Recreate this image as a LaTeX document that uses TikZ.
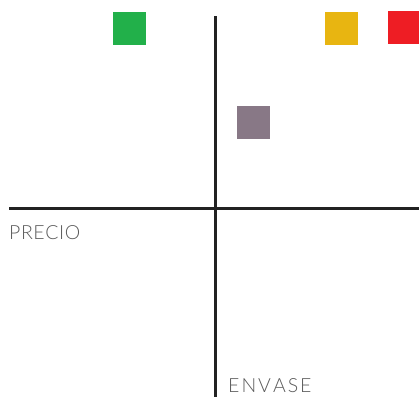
\documentclass[tikz,border=0pt]{standalone}
\usepackage{fontspec}
\setmainfont{Lato}[UprightFont=* Light]
\usepackage{tikz}
\usetikzlibrary{positioning}
\definecolor{mapgreen}{HTML}{22B04A}
\definecolor{mapyellow}{HTML}{E8B511}
\definecolor{mapred}{HTML}{EE1D24}
\definecolor{mapgray}{HTML}{887886}
\definecolor{axisink}{HTML}{222222}
\definecolor{labelink}{HTML}{5A5A5A}

\begin{document}
\begin{tikzpicture}[
    x=1pt, y=-1pt,
    brand/.style={draw=none,minimum size=33pt,inner sep=0pt,outer sep=0pt},
    axis/.style={line width=3pt,color=axisink},
    axlabel/.style={font=\fontsize{19.5}{19.5}\selectfont,text=labelink,inner sep=0pt,anchor=base west}
  ]
    \useasboundingbox (0,0) rectangle (419,397);

    % axes
    \coordinate (xl) at (9,208);
    \coordinate (xr) at (419,208);
    \coordinate (yt) at (215,16);
    \coordinate (yb) at (215,397);
    \draw[axis] (xl) -- (xr);
    \draw[axis] (yt) -- (yb);

    \node[axlabel] (precio) at (9,239) {P\kern0.6pt R\kern0.6pt E\kern0.6pt C\kern0.6pt I\kern0.6pt O};
    \node[axlabel] (envase) at (228,392) {E\kern2pt N\kern2pt V\kern2pt A\kern2pt S\kern2pt E};

    % brands
    \node[brand,fill=mapgreen] (green) at (129.5,28.5) {};
    \node[brand,fill=mapyellow] (yellow) at (341.5,28.5) {};
    \node[brand,fill=mapred] (red) at (404.5,27.5) {};
    \node[brand,fill=mapgray] (gray) at (253.5,122.5) {};
  \end{tikzpicture}
\end{document}
